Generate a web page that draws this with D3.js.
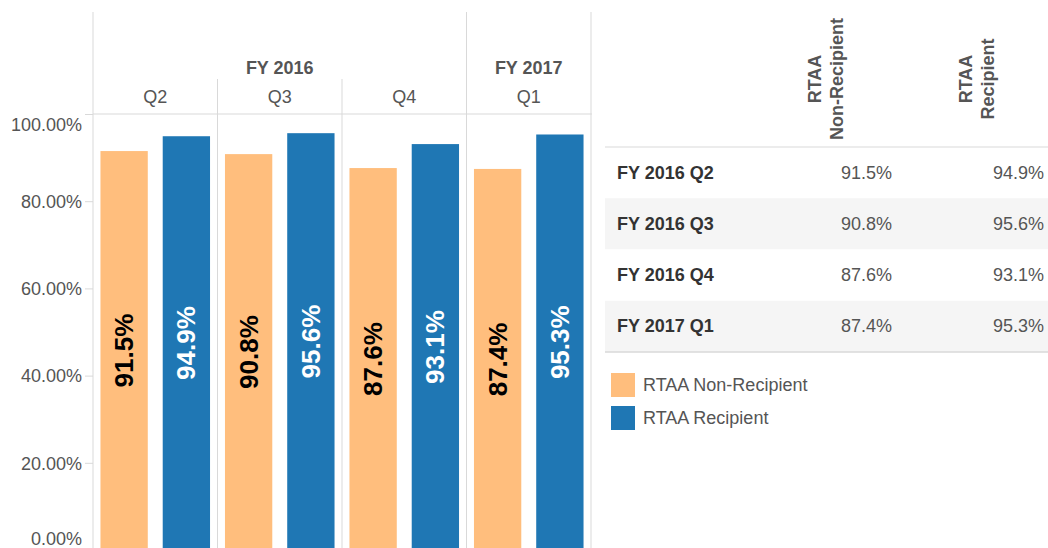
<!DOCTYPE html>
<html>
<head>
<meta charset="utf-8">
<script src="https://cdn.jsdelivr.net/npm/d3@7"></script>
<style>
  body { margin: 0; background: #fff; }
  svg { font-family: "Liberation Sans", Arial, sans-serif; }
</style>
</head>
<body>
<div id="chart"></div>
<script>
// data
const years = ["FY 2016", "FY 2016", "FY 2016", "FY 2017"];
const quarters = ["Q2", "Q3", "Q4", "Q1"];
const series = ["RTAA Non-Recipient", "RTAA Recipient"];
const nonRecipient = [91.5, 90.8, 87.6, 87.4];
const recipient = [94.9, 95.6, 93.1, 95.3];
const yTicks = [0, 20, 40, 60, 80, 100];

const colors = ["#ffbe7d", "#1f77b4"];
const labelColors = ["#000", "#fff"];
const gridColor = "#d9d9d9";

const width = 1048, height = 548;
const periods = quarters.map((q, i) => years[i] + " " + q);
const values = [nonRecipient, recipient];

const svg = d3.select("#chart").append("svg")
    .attr("width", width)
    .attr("height", height);

// scales
const x0 = d3.scaleBand().domain(periods).range([93, 591]);
const x1 = d3.scaleBand().domain(series).range([0, x0.bandwidth()])
    .paddingInner(0.24).paddingOuter(0.12);
const y = d3.scaleLinear().domain([0, 100]).range([550, 114]);

// y axis
const yAxis = svg.append("g")
    .attr("transform", "translate(93,0)")
    .call(d3.axisLeft(y).tickValues(yTicks).tickSize(8).tickPadding(3)
        .tickFormat(d => d.toFixed(2) + "%"));
yAxis.select(".domain").remove();
yAxis.selectAll(".tick line").attr("stroke", gridColor);
yAxis.selectAll(".tick text")
    .attr("fill", "#555")
    .style("font-size", "18px")
    .attr("dy", d => d === 100 ? "0.9em" : d === 0 ? "-0.3em" : "0.35em");

// pane lines
svg.append("line").attr("x1", 93).attr("x2", 93).attr("y1", 12).attr("y2", height)
    .attr("stroke", gridColor);
svg.append("line").attr("x1", 93).attr("x2", 592).attr("y1", 114).attr("y2", 114)
    .attr("stroke", gridColor);
periods.forEach((p, i) => {
    const xr = x0(p) + x0.bandwidth();
    const lastOfYear = i === periods.length - 1 || years[i + 1] !== years[i];
    svg.append("line")
        .attr("x1", xr).attr("x2", xr)
        .attr("y1", lastOfYear ? 12 : 79).attr("y2", height)
        .attr("stroke", gridColor);
});

// header: fiscal years and quarters
const yearGroups = d3.groups(periods.map((p, i) => ({ p, year: years[i] })), d => d.year);
yearGroups.forEach(([year, items]) => {
    const xa = x0(items[0].p);
    const xb = x0(items[items.length - 1].p) + x0.bandwidth();
    svg.append("text")
        .attr("x", (xa + xb) / 2).attr("y", 68)
        .attr("text-anchor", "middle").attr("dominant-baseline", "central")
        .attr("fill", "#555").style("font-size", "18px").style("font-weight", "bold")
        .text(year);
});
svg.selectAll(".qlabel").data(periods).join("text")
    .attr("class", "qlabel")
    .attr("x", d => x0(d) + x0.bandwidth() / 2).attr("y", 97)
    .attr("text-anchor", "middle").attr("dominant-baseline", "central")
    .attr("fill", "#555").style("font-size", "18px")
    .text((d, i) => quarters[i]);

// bars
const barData = [];
periods.forEach((p, i) => series.forEach((s, j) => {
    barData.push({ p, s, j, v: values[j][i] });
}));

svg.append("g").selectAll("rect").data(barData).join("rect")
    .attr("x", d => x0(d.p) + x1(d.s))
    .attr("y", d => y(d.v))
    .attr("width", x1.bandwidth())
    .attr("height", d => y(0) - y(d.v))
    .attr("fill", d => colors[d.j]);

svg.append("g").selectAll("text").data(barData).join("text")
    .attr("transform", d => {
        const cx = x0(d.p) + x1(d.s) + x1.bandwidth() / 2;
        const cy = (y(d.v) + y(0)) / 2;
        return `translate(${cx},${cy}) rotate(-90)`;
    })
    .attr("text-anchor", "middle").attr("dominant-baseline", "central")
    .attr("fill", d => labelColors[d.j])
    .style("font-size", "26px").style("font-weight", "bold")
    .text(d => d.v.toFixed(1) + "%");

// table on the right
const tableLeft = 605, tableRight = width;
const rowLabelX = 617;
const colRight = [892, 1044];
const colHeadX = [826, 977];
const colHeadLines = [["RTAA", "Non-Recipient"], ["RTAA", "Recipient"]];

const rows = d3.scaleBand().domain(periods).range([147, 352]);

svg.append("g").selectAll("rect").data(periods).join("rect")
    .attr("x", tableLeft).attr("width", tableRight - tableLeft)
    .attr("y", d => rows(d)).attr("height", rows.bandwidth())
    .attr("fill", (d, i) => i % 2 ? "#f5f5f5" : "#fff");

svg.append("line").attr("x1", tableLeft).attr("x2", tableRight)
    .attr("y1", 147).attr("y2", 147).attr("stroke", gridColor);
svg.append("line").attr("x1", tableLeft).attr("x2", tableRight)
    .attr("y1", 352).attr("y2", 352).attr("stroke", gridColor).attr("stroke-width", 1.5);

colHeadLines.forEach((lines, c) => {
    lines.forEach((t, k) => {
        svg.append("text")
            .attr("transform", `translate(${colHeadX[c] + (k - 0.5) * 22},79) rotate(-90)`)
            .attr("text-anchor", "middle").attr("dominant-baseline", "central")
            .attr("fill", "#555").style("font-size", "18px").style("font-weight", "bold")
            .text(t);
    });
});

svg.append("g").selectAll("text").data(periods).join("text")
    .attr("x", rowLabelX).attr("y", d => rows(d) + rows.bandwidth() / 2)
    .attr("dominant-baseline", "central")
    .attr("fill", "#333").style("font-size", "18px").style("font-weight", "bold")
    .text(d => d);

values.forEach((vals, c) => {
    svg.append("g").selectAll("text").data(vals).join("text")
        .attr("x", colRight[c])
        .attr("y", (d, i) => rows(periods[i]) + rows.bandwidth() / 2)
        .attr("text-anchor", "end").attr("dominant-baseline", "central")
        .attr("fill", "#555").style("font-size", "18px")
        .text(d => d.toFixed(1) + "%");
});

// legend
const legend = svg.append("g").attr("transform", "translate(611,373)");
legend.selectAll("rect").data(series).join("rect")
    .attr("x", 0).attr("y", (d, i) => i * 33)
    .attr("width", 24).attr("height", 24)
    .attr("fill", (d, i) => colors[i]);
legend.selectAll("text").data(series).join("text")
    .attr("x", 32).attr("y", (d, i) => i * 33 + 12)
    .attr("dominant-baseline", "central")
    .attr("fill", "#555").style("font-size", "18px")
    .text(d => d);
</script>
</body>
</html>
